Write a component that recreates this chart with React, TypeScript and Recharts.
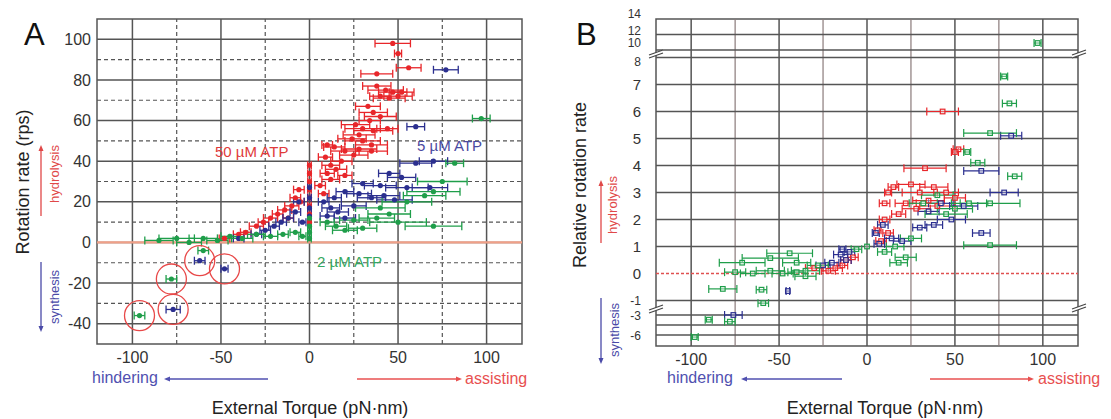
import React from "react";
import { ScatterChart, Scatter, XAxis, YAxis, ReferenceLine, ReferenceArea, ErrorBar } from "recharts";

const FONT = "'Liberation Sans', Arial, sans-serif";
const RED = "#e8262a";
const BLUE = "#2b2f8f";
const GREEN = "#1f9e4a";

// ---------- Panel A: [torque, rotation rate (rps), torque error] ----------
const redA: number[][] = [
  [47, 98, 10], [50, 93, 2], [56, 86, 7], [38, 83, 9],
  [38, 77, 8], [43, 75, 10], [47, 74, 8], [50, 72, 8], [45, 71, 9], [52, 74, 7], [40, 72, 6],
  [33, 67, 7], [36, 64, 8], [40, 62, 9], [34, 60, 6],
  [26, 58, 8], [30, 56, 10], [36, 55, 11], [28, 53, 9], [44, 56, 6],
  [24, 51, 8], [30, 50, 10], [35, 48, 9], [10, 48, 3],
  [14, 47, 6], [20, 45, 8], [28, 46, 10], [25, 43, 8], [35, 45, 9],
  [9, 42, 4], [12, 38, 5], [10, 34, 4], [15, 36, 6], [12, 31, 5], [18, 40, 6], [20, 33, 4], [6, 28, 3], [8, 24, 3],
  [0, 38, 1], [0, 34, 1], [0, 30, 1], [0, 26, 1], [0, 22, 1], [0, 18, 1], [0, 14, 1], [0, 10, 1],
  [-6, 26, 3], [-8, 22, 3], [-10, 18, 4], [-14, 16, 4], [-18, 14, 3], [-22, 12, 4], [-26, 10, 3], [-12, 12, 3], [-5, 20, 2],
  [-30, 8, 4], [-36, 5, 3], [-40, 4, 3], [-48, 2, 3],
];
const blueA: number[][] = [
  [77, 85, 7], [60, 57, 5], [60, 39, 9], [70, 40, 8], [45, 34, 6], [52, 32, 8],
  [30, 29, 6], [40, 28, 9], [55, 27, 12], [68, 27, 10],
  [20, 25, 5], [28, 24, 7], [35, 22, 8], [42, 23, 9], [48, 21, 10],
  [8, 20, 3], [12, 17, 5], [16, 15, 6], [10, 13, 4], [20, 12, 6], [25, 18, 7], [14, 22, 4],
  [0, 27, 1], [0, 22, 1], [0, 17, 1], [0, 13, 1],
  [-6, 20, 3], [-8, 15, 3], [-12, 12, 3], [-16, 10, 3], [-20, 8, 3], [-4, 10, 2],
  [-40, 2, 3], [-30, 4, 3], [-25, 6, 3],
  [-62, -9, 3], [-48, -13, 2], [-77, -33, 4],
];
const greenA: number[][] = [
  [97, 61, 5], [82, 39, 5], [75, 30, 14], [70, 25, 15], [65, 23, 12], [55, 20, 14],
  [40, 17, 14], [45, 14, 12], [38, 12, 10], [50, 10, 16], [70, 8, 16],
  [10, 10, 4], [15, 8, 6], [20, 6, 7], [25, 11, 8], [30, 7, 8],
  [0, 12, 1], [0, 8, 1], [0, 5, 1], [0, 2, 1],
  [-85, 1, 8], [-75, 2, 10], [-68, 0, 7], [-60, 2, 8], [-52, 1, 6], [-45, 3, 5], [-38, 2, 6],
  [-30, 4, 5], [-22, 3, 4], [-15, 4, 3], [-8, 5, 3], [-4, 3, 2],
  [-60, -4, 3], [-78, -18, 3], [-96, -36, 3],
];
const circledA: number[][] = [[-96, -36], [-78, -18], [-77, -33], [-62, -9], [-48, -13]];

// ---------- Panel B: [torque, relative rotation rate, torque error] ----------
const redB: number[][] = [
  [43, 6.0, 9], [52, 4.6, 3], [50, 4.5, 2], [33, 3.9, 12], [15, 3.2, 3],
  [25, 3.3, 8], [30, 3.0, 10], [38, 3.2, 8], [35, 2.7, 9], [45, 3.0, 7], [22, 2.6, 6], [28, 2.4, 8], [40, 2.5, 10], [50, 2.8, 6],
  [10, 2.6, 3], [12, 3.0, 2], [6, 1.6, 2], [8, 1.2, 3], [10, 2.0, 3], [12, 1.5, 3], [18, 2.2, 4],
  [-8, 0.6, 3], [-14, 0.3, 3], [-18, 0.2, 4], [-22, 0.1, 4], [-30, 0.2, 5], [-12, 0.5, 3],
];
const blueB: number[][] = [
  [82, 5.1, 6], [65, 3.8, 10], [78, 3.0, 8], [35, 2.3, 6], [42, 2.6, 7], [48, 2.0, 8], [55, 2.5, 8], [38, 1.8, 5], [30, 1.7, 4], [65, 1.5, 5],
  [7, 1.1, 3], [9, 1.8, 3], [14, 1.3, 4], [20, 1.2, 5], [5, 1.5, 2],
  [-10, 0.8, 3], [-12, 0.5, 3], [-15, 0.7, 4], [-20, 0.4, 4], [-25, 0.3, 4], [-14, 0.9, 2],
  [-45, -0.65, 1], [-76, -3.0, 5],
];
const greenB: number[][] = [
  [97, 10.9, 2], [78, 7.3, 2], [81, 6.3, 4], [70, 5.2, 15], [57, 4.5, 2], [63, 4.1, 4], [84, 3.6, 4], [70, 2.6, 17],
  [32, 2.6, 8], [40, 2.9, 9], [50, 2.4, 10], [45, 2.2, 12], [58, 2.6, 10], [70, 1.05, 15],
  [0, 1.0, 0], [10, 0.8, 4], [16, 1.0, 5], [22, 0.6, 6], [18, 0.4, 5], [25, 1.3, 6],
  [-6, 0.9, 3], [-28, 0.3, 6], [-35, 0.1, 8], [-40, 0.4, 8],
  [-75, 0.05, 6], [-65, 0.0, 7], [-55, 0.1, 8], [-48, 0.0, 6], [-40, 0.05, 5], [-35, -0.1, 6],
  [-71, 0.4, 13], [-55, 0.57, 16], [-44, 0.75, 13], [-82, -0.57, 8], [-60, -0.6, 3], [-59, -1.1, 3],
  [-78, -4.0, 3], [-90, -3.7, 2], [-98, -6.3, 2],
];

// ---------- axes ----------
const xTicks = [-100, -50, 0, 50, 100];
const xMinor = [-75, -25, 25, 75];
const yTicksA = [100, 80, 60, 40, 20, 0, -20, -40];
const yMinorA = [90, 70, 50, 30, 10, -10, -30];
const yTickLabelsB = [14, 12, 10, 8, 7, 6, 5, 4, 3, 2, 1, 0, -1, -3, -6];
const yLinesB = [12, 10, 8, 7, 6, 5, 4, 3, 2, 1, -1, -3, -4.5, -6];

// broken-axis mapping for panel B (value -> linear axis coordinate)
const breakAnchors: number[][] = [
  [-7.6, 0], [-6, 11], [-3, 31], [-1.4, 35], [-1, 45.5], [8, 288.5], [10, 296], [14, 327],
];
const by = (v: number) => {
  for (let i = 0; i < breakAnchors.length - 1; i++) {
    const [v0, u0] = breakAnchors[i];
    const [v1, u1] = breakAnchors[i + 1];
    if (v <= v1 || i === breakAnchors.length - 2) {
      return u0 + ((v - v0) * (u1 - u0)) / (v1 - v0);
    }
  }
  return 0;
};

const toPts = (arr: number[][]) => arr.map(([x, y, e]) => ({ x, y, e }));
const toPtsB = (arr: number[][]) => arr.map(([x, y, e]) => ({ x, y: by(y), e }));

const dot = (color: string) => (p: any) => <circle cx={p.cx} cy={p.cy} r={2.6} fill={color} />;
const openSq = (color: string) => (p: any) => (
  <rect x={p.cx - 2.3} y={p.cy - 2.3} width={4.6} height={4.6} fill="#fff" fillOpacity={0.3} stroke={color} strokeWidth={1.2} />
);
const ring = (p: any) => <circle cx={p.cx} cy={p.cy} r={15} fill="none" stroke="#e84848" strokeWidth={1.3} />;

const tickStyle = { fontSize: 16, fill: "#333", fontFamily: FONT };

const BTick = (props: any) => {
  const { x, y, index } = props;
  const lab = yTickLabelsB[index];
  const offs: Record<string, number> = { "14": -5, "12": -4, "10": -7, "8": 4, "-3": 1, "-6": 1 };
  const off = offs[String(lab)] ?? 0;
  const small = lab >= 8 || lab < 0;
  return (
    <text x={x} y={y + off} dy="0.35em" textAnchor="end" fontSize={small ? 12 : 15} fill="#333" fontFamily={FONT}>
      {lab}
    </text>
  );
};

const GRID = "#555";

function PanelA() {
  return (
    <ScatterChart width={560} height={419} margin={{ top: 19, right: 38, bottom: 45, left: 57 }}>
      <XAxis type="number" dataKey="x" domain={[-120, 120]} ticks={xTicks} axisLine={false} tickLine={false} tick={tickStyle} height={30} interval={0} />
      <YAxis type="number" dataKey="y" domain={[-50, 110]} ticks={yTicksA} axisLine={false} tickLine={false} tick={tickStyle} width={40} tickSize={4} interval={0} />
      {yMinorA.map((v) => (
        <ReferenceLine key={"ym" + v} y={v} stroke={GRID} strokeWidth={1.2} strokeDasharray="4 3" />
      ))}
      {xMinor.map((v) => (
        <ReferenceLine key={"xm" + v} x={v} stroke={GRID} strokeWidth={1.2} strokeDasharray="4 3" />
      ))}
      {yTicksA.map((v) => (
        <ReferenceLine key={"y" + v} y={v} stroke={GRID} strokeWidth={1.5} />
      ))}
      {xTicks.map((v) => (
        <ReferenceLine key={"x" + v} x={v} stroke={GRID} strokeWidth={1.5} />
      ))}
      <ReferenceLine y={0} stroke="#f0a088" strokeWidth={2.2} />
      <ReferenceArea x1={-120} x2={120} y1={-50} y2={110} fill="none" stroke={GRID} strokeWidth={1.5} />
      <Scatter data={toPts(redA)} shape={dot(RED)} isAnimationActive={false}>
        <ErrorBar dataKey="e" direction="x" width={4} stroke={RED} strokeWidth={1.3} />
      </Scatter>
      <Scatter data={toPts(blueA)} shape={dot(BLUE)} isAnimationActive={false}>
        <ErrorBar dataKey="e" direction="x" width={4} stroke={BLUE} strokeWidth={1.3} />
      </Scatter>
      <Scatter data={toPts(greenA)} shape={dot(GREEN)} isAnimationActive={false}>
        <ErrorBar dataKey="e" direction="x" width={4} stroke={GREEN} strokeWidth={1.3} />
      </Scatter>
      <Scatter data={circledA.map(([x, y]) => ({ x, y }))} shape={ring} isAnimationActive={false} />
    </ScatterChart>
  );
}

function PanelB() {
  return (
    <ScatterChart width={551} height={419} margin={{ top: 19, right: 33, bottom: 43, left: 56 }}>
      <XAxis type="number" dataKey="x" domain={[-120, 120]} ticks={xTicks} axisLine={false} tickLine={false} tick={tickStyle} height={30} interval={0} />
      <YAxis type="number" dataKey="y" domain={[0, 327]} ticks={yTickLabelsB.map(by)} axisLine={false} tickLine={false} tick={<BTick />} width={40} tickSize={13} interval={0} />
      {xMinor.map((v) => (
        <ReferenceLine key={"xm" + v} x={v} stroke="#8a7a7a" strokeWidth={1.2} />
      ))}
      {xTicks.map((v) => (
        <ReferenceLine key={"x" + v} x={v} stroke={GRID} strokeWidth={1.5} />
      ))}
      {yLinesB.map((v) => (
        <ReferenceLine key={"y" + v} y={by(v)} stroke={GRID} strokeWidth={1.5} />
      ))}
      <ReferenceLine y={by(0)} stroke="#e05050" strokeWidth={1.6} strokeDasharray="3 2" />
      <ReferenceArea x1={-120} x2={120} y1={0} y2={327} fill="none" stroke={GRID} strokeWidth={1.5} />
      <Scatter data={toPtsB(redB)} shape={openSq(RED)} isAnimationActive={false}>
        <ErrorBar dataKey="e" direction="x" width={4} stroke={RED} strokeWidth={1.2} />
      </Scatter>
      <Scatter data={toPtsB(blueB)} shape={openSq(BLUE)} isAnimationActive={false}>
        <ErrorBar dataKey="e" direction="x" width={4} stroke={BLUE} strokeWidth={1.2} />
      </Scatter>
      <Scatter data={toPtsB(greenB)} shape={openSq(GREEN)} isAnimationActive={false}>
        <ErrorBar dataKey="e" direction="x" width={4} stroke={GREEN} strokeWidth={1.2} />
      </Scatter>
    </ScatterChart>
  );
}

const ArrowH = ({ x1, x2, y, color }: { x1: number; x2: number; y: number; color: string }) => {
  const dir = x2 > x1 ? 1 : -1;
  return (
    <g>
      <line x1={x1} y1={y} x2={x2 - dir * 4} y2={y} stroke={color} strokeWidth={1.3} />
      <polygon points={`${x2},${y} ${x2 - dir * 6},${y - 2.5} ${x2 - dir * 6},${y + 2.5}`} fill={color} />
    </g>
  );
};
const ArrowV = ({ x, y1, y2, color }: { x: number; y1: number; y2: number; color: string }) => {
  const dir = y2 > y1 ? 1 : -1;
  return (
    <g>
      <line x1={x} y1={y1} x2={x} y2={y2 - dir * 4} stroke={color} strokeWidth={1.3} />
      <polygon points={`${x},${y2} ${x - 2.5},${y2 - dir * 6} ${x + 2.5},${y2 - dir * 6}`} fill={color} />
    </g>
  );
};
const BreakMark = ({ x, y }: { x: number; y: number }) => (
  <g>
    <polygon points={`${x - 7},${y + 1} ${x + 7},${y - 4} ${x + 7},${y - 1} ${x - 7},${y + 4}`} fill="#fff" />
    <line x1={x - 7} y1={y + 1} x2={x + 7} y2={y - 4} stroke="#444" strokeWidth={1.3} />
    <line x1={x - 7} y1={y + 4} x2={x + 7} y2={y - 1} stroke="#444" strokeWidth={1.3} />
  </g>
);

function Overlay() {
  const t = (extra: any) => ({ fontFamily: FONT, ...extra });
  return (
    <svg width={1111} height={419} style={{ position: "absolute", left: 0, top: 0, pointerEvents: "none" }}>
      {/* Panel A */}
      <text {...t({ x: 24, y: 45, fontSize: 31, fill: "#111" })}>A</text>
      <text {...t({ x: 0, y: 0, fontSize: 18, fill: "#222", textAnchor: "middle", transform: "translate(29,182) rotate(-90)" })}>Rotation rate (rps)</text>
      <text {...t({ x: 0, y: 0, fontSize: 13, fill: "#e04848", textAnchor: "middle", transform: "translate(59,174) rotate(-90)" })}>hydrolysis</text>
      <ArrowV x={41} y1={216} y2={145} color="#e04848" />
      <text {...t({ x: 0, y: 0, fontSize: 13, fill: "#4a4aa8", textAnchor: "middle", transform: "translate(59,297) rotate(-90)" })}>synthesis</text>
      <ArrowV x={41} y1={262} y2={332} color="#4a4aa8" />
      <text {...t({ x: 215, y: 157, fontSize: 15, fill: "#e03a3a" })}>50 µM ATP</text>
      <text {...t({ x: 417, y: 151, fontSize: 15, fill: "#4a4aa0" })}>5 µM ATP</text>
      <text {...t({ x: 317, y: 267, fontSize: 15, fill: "#35a860" })}>2 µM ATP</text>
      <text {...t({ x: 92, y: 383, fontSize: 16, fill: "#5050b0" })}>hindering</text>
      <ArrowH x1={268} x2={164} y={379} color="#5050b0" />
      <text {...t({ x: 465, y: 384, fontSize: 16, fill: "#e85050" })}>assisting</text>
      <ArrowH x1={357} x2={462} y={379} color="#e85050" />
      <text {...t({ x: 310, y: 414, fontSize: 18, fill: "#222", textAnchor: "middle" })}>External Torque (pN·nm)</text>

      {/* Panel B */}
      <text {...t({ x: 576, y: 45, fontSize: 31, fill: "#111" })}>B</text>
      <text {...t({ x: 0, y: 0, fontSize: 18, fill: "#222", textAnchor: "middle", transform: "translate(586,185) rotate(-90)" })}>Relative rotation rate</text>
      <text {...t({ x: 0, y: 0, fontSize: 13, fill: "#e04848", textAnchor: "middle", transform: "translate(617,205) rotate(-90)" })}>hydrolysis</text>
      <ArrowV x={601} y1={243} y2={180} color="#e04848" />
      <text {...t({ x: 0, y: 0, fontSize: 13, fill: "#4a4aa8", textAnchor: "middle", transform: "translate(619,330) rotate(-90)" })}>synthesis</text>
      <ArrowV x={601} y1={298} y2={364} color="#4a4aa8" />
      <text {...t({ x: 667, y: 383, fontSize: 16, fill: "#5050b0" })}>hindering</text>
      <ArrowH x1={842} x2={741} y={379} color="#5050b0" />
      <text {...t({ x: 1038, y: 384, fontSize: 16, fill: "#e85050" })}>assisting</text>
      <ArrowH x1={930} x2={1034} y={379} color="#e85050" />
      <text {...t({ x: 885, y: 414, fontSize: 18, fill: "#222", textAnchor: "middle" })}>External Torque (pN·nm)</text>
      <BreakMark x={656} y={54} />
      <BreakMark x={656} y={309} />
      <BreakMark x={1079} y={54} />
      <BreakMark x={1079} y={308} />
    </svg>
  );
}

export default function App() {
  return (
    <div style={{ position: "absolute", left: 0, top: 0, width: 1111, height: 419, background: "#fff" }}>
      <div style={{ position: "absolute", left: 0, top: 0 }}>
        <PanelA />
      </div>
      <div style={{ position: "absolute", left: 560, top: 0 }}>
        <PanelB />
      </div>
      <Overlay />
    </div>
  );
}
